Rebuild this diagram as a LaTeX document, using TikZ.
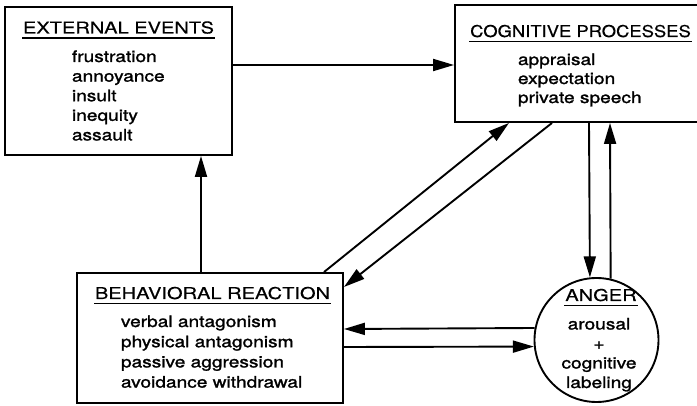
\documentclass[tikz,border=0pt]{standalone}
\usepackage{fontspec}
\setmainfont{TeX Gyre Heros}[FakeStretch=1.21,FakeBold=1.5]
\newfontfamily\ttlfont{TeX Gyre Heros}[FakeStretch=1.23,FakeBold=0.4]
\newfontfamily\ttlnarrow{TeX Gyre Heros}[FakeStretch=1.13,FakeBold=0.4]
\usetikzlibrary{arrows.meta}
\begin{document}
\begin{tikzpicture}[x=1pt,y=-1pt,line width=1.9pt,
  box/.style={draw,rectangle,inner sep=0pt},
  ttl/.style={font=\ttlfont\fontsize{16.3}{20}\selectfont,inner sep=0pt,anchor=base},
  itm/.style={font=\fontsize{15.8}{20}\selectfont,inner sep=0pt,anchor=base west},
  ctr/.style={font=\fontsize{15.8}{20}\selectfont,inner sep=0pt,anchor=base},
  uline/.style={line width=1.2pt},
  arr/.style={-{Triangle[length=21pt,width=12pt]}}]
\useasboundingbox (0,0) rectangle (697,406);
% boxes
\node[box,minimum width=227pt,minimum height=148pt] (ext) at (118.5,81) {};
\node[box,minimum width=245pt,minimum height=117pt] (cog) at (577.5,63.5) {};
\node[box,minimum width=266pt,minimum height=130pt] (beh) at (210,338) {};
\node[draw,circle,minimum size=124pt,inner sep=0pt] (anger) at (596.5,340) {};
% titles
\node[ttl] (extT) at (118.5,33.5) {EXTERNAL EVENTS};
\node[ttl,font=\ttlnarrow\fontsize{16.3}{20}\selectfont] (cogT) at (580.5,37) {COGNITIVE PROCESSES};
\node[ttl] (behT) at (212.5,299) {BEHAVIORAL REACTION};
\node[ttl] (angT) at (601,301) {ANGER};
\foreach \t in {extT,cogT,behT,angT}
  \draw[uline] ([yshift=-4.5pt]\t.base west) -- ([yshift=-4.5pt]\t.base east);
% items
\foreach \s [count=\i from 0] in {frustration,annoyance,insult,inequity,assault}
  \node[itm] (ext-\i) at (71,62+19.6*\i) {\s};
\foreach \s [count=\i from 0] in {appraisal,expectation,private speech}
  \node[itm] (cog-\i) at (517,65+19*\i) {\s};
\foreach \s [count=\i from 0] in {verbal antagonism,physical antagonism,passive aggression,avoidance withdrawal}
  \node[itm] (beh-\i) at (120,327+20.2*\i) {\s};
\node[ctr] (ang-0) at (599,329.5) {arousal};
\node[ctr] (ang-1) at (599,349) {+};
\node[ctr] (ang-2) at (599,368.5) {cognitive};
\node[ctr] (ang-3) at (599,388) {labeling};
% connectors
\draw[arr] (ext.east |- 0,65) -- (cog.west |- 0,65);
\draw[arr] (beh.north -| 201,0) -- (ext.south -| 201,0);
\draw[arr] (beh.north -| 324,0) -- (cog.south -| 509,0);
\draw[arr] (cog.south -| 552,0) -- (beh.east |- 0,287);
\draw[arr] (anger.169.8) -- (beh.east |- 0,329);
\draw[arr] (beh.east |- 0,347) -- (anger.186.5);
\draw[arr] (cog.south -| 589,0) -- (anger.96.9);
\draw[arr] (anger.77.4) -- (cog.south -| 610,0);
\end{tikzpicture}
\end{document}
